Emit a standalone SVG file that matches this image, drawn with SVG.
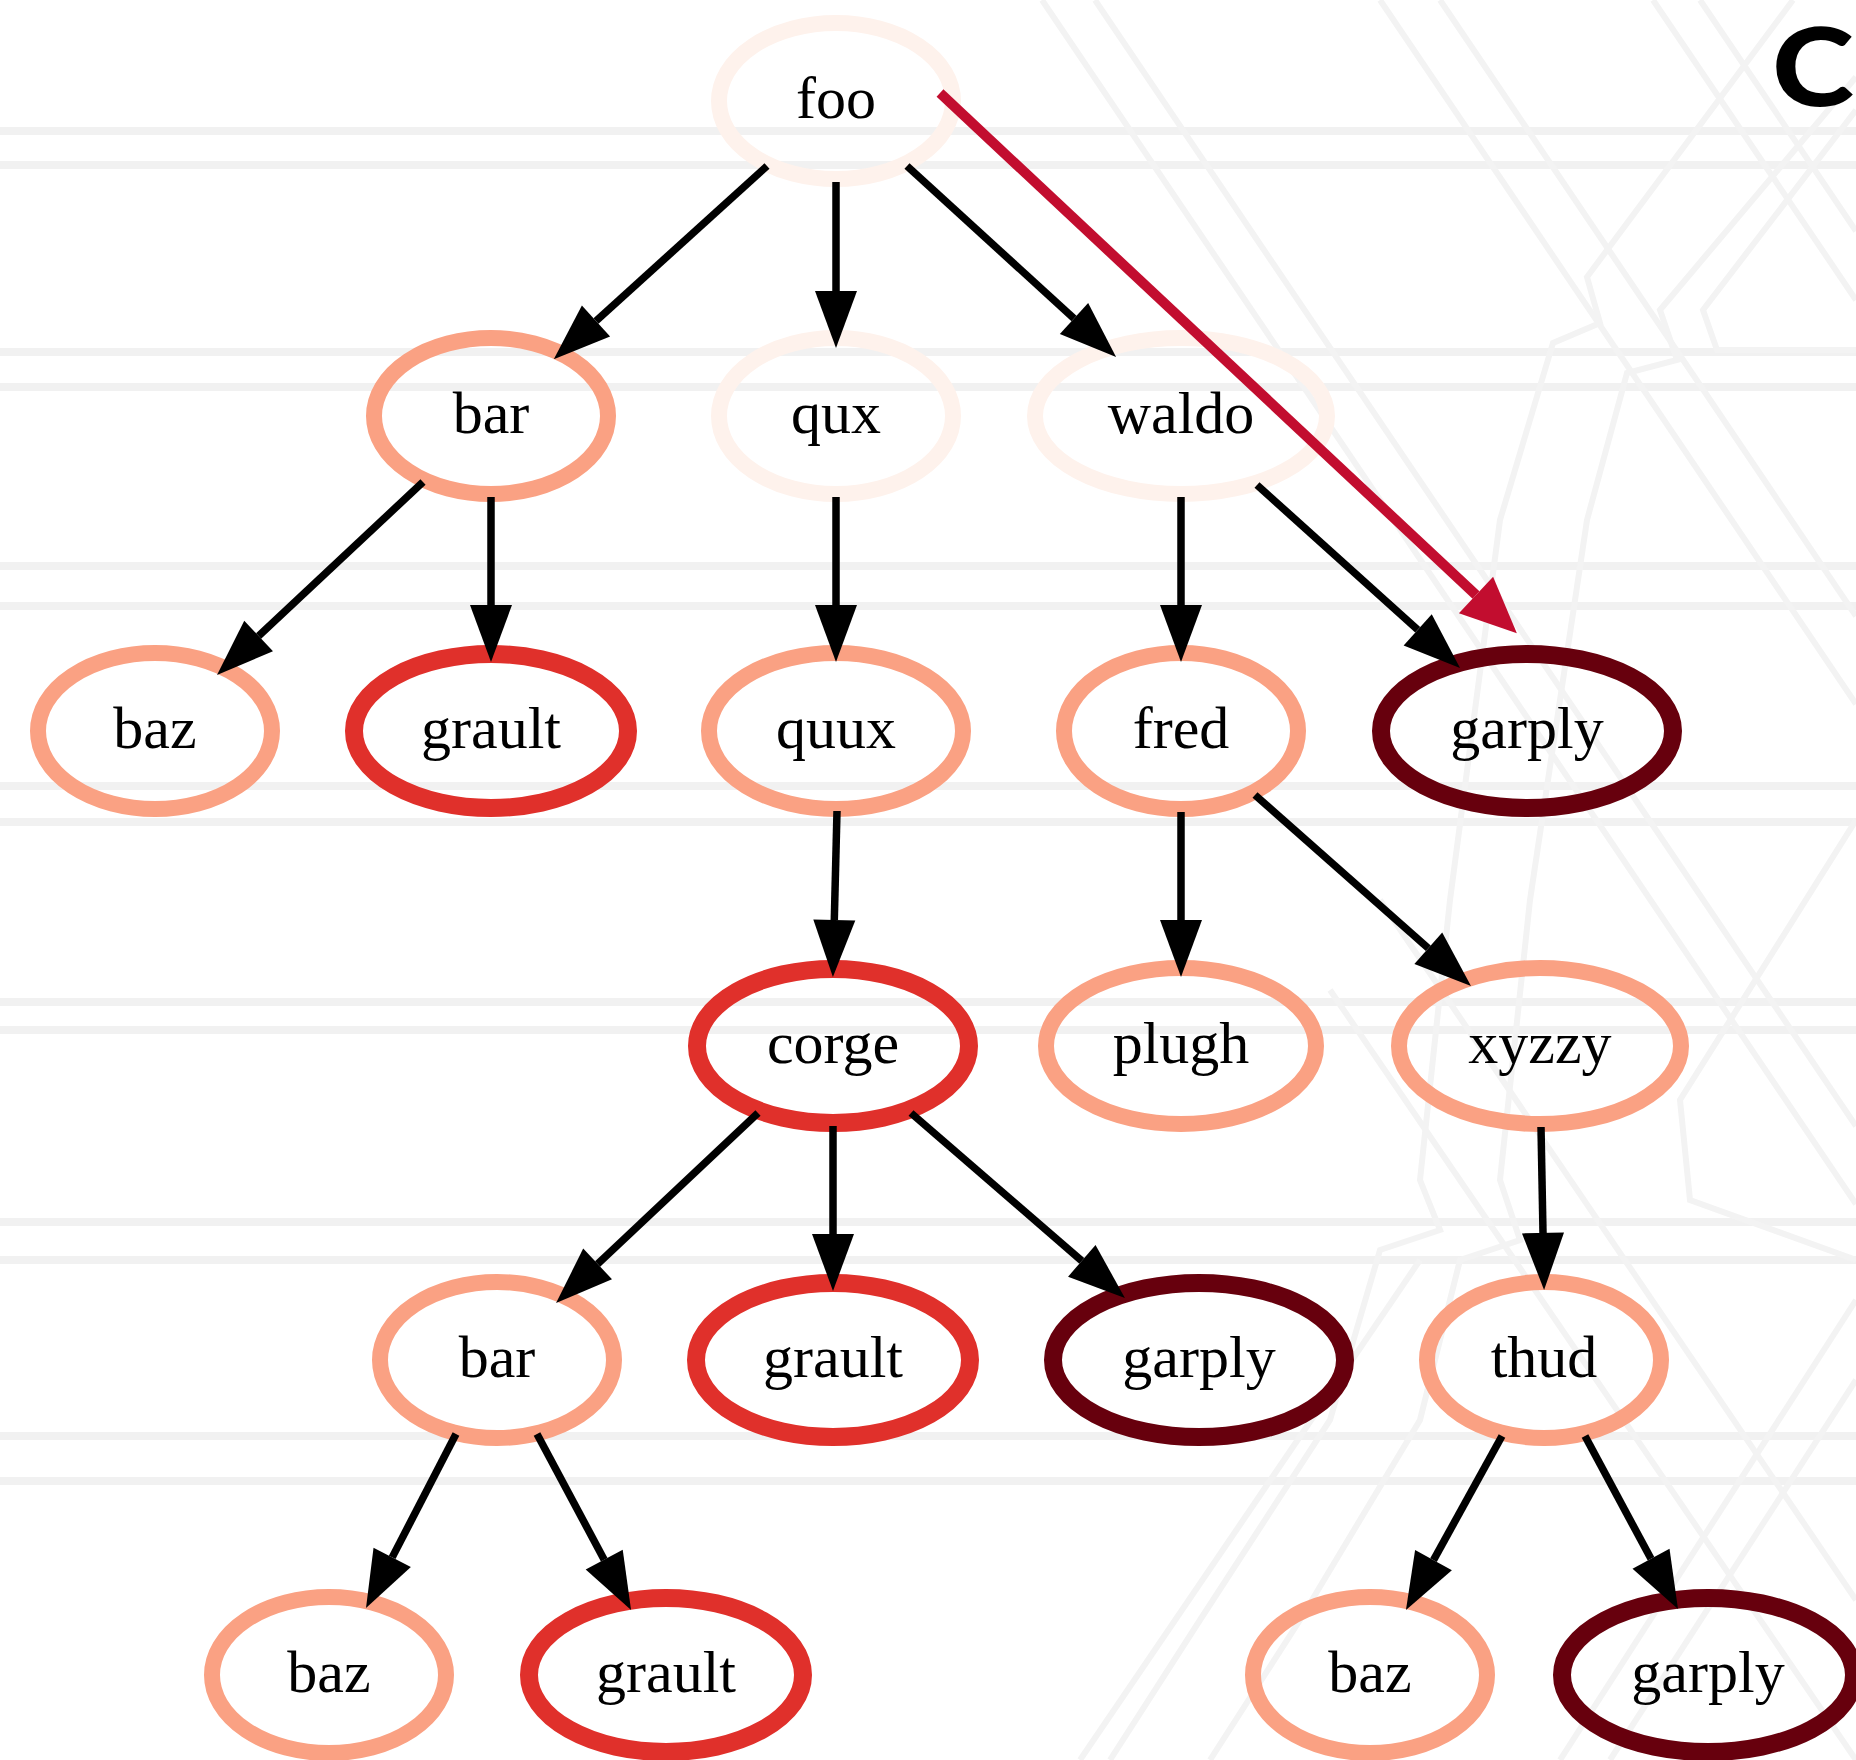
<svg xmlns="http://www.w3.org/2000/svg" width="1856" height="1760" viewBox="0 0 1856 1760">
<style>
.bg line, .bg polyline { stroke:#f1f1f1; stroke-width:8; fill:none; }
.bg .d { stroke:#f3f3f3; stroke-width:6; }
.nd ellipse { fill:none; }
.pale { stroke:#fef2ec; stroke-width:16; }
.salmon { stroke:#faa183; stroke-width:16; }
.red { stroke:#e0302b; stroke-width:18; }
.dark { stroke:#67000d; stroke-width:18; }
.nd text { font-family:"Liberation Serif","Times New Roman",serif; font-size:60px; text-anchor:middle; fill:#000; }
.e { stroke:#000; stroke-width:7.5; fill:none; marker-end:url(#ah); }
.er { stroke:#c20d2f; stroke-width:10; fill:none; marker-end:url(#ahr); }
</style>
<defs>
<marker id="ah" markerUnits="userSpaceOnUse" markerWidth="60" markerHeight="50" refX="0" refY="21" orient="auto" viewBox="0 0 60 50" overflow="visible">
<path d="M0,0 L57,21 L0,42 Z" fill="#000"/>
</marker>
<marker id="ahr" markerUnits="userSpaceOnUse" markerWidth="60" markerHeight="54" refX="0" refY="25" orient="auto" viewBox="0 0 60 54" overflow="visible">
<path d="M0,0 L56,25 L0,50 Z" fill="#c20d2f"/>
</marker>
</defs>
<rect width="1856" height="1760" fill="#fff"/>
<g class="bg" id="background">
<line x1="0" y1="131" x2="1856" y2="131"/>
<line x1="0" y1="165" x2="1856" y2="165"/>
<line x1="0" y1="352" x2="1856" y2="352"/>
<line x1="0" y1="387" x2="1856" y2="387"/>
<line x1="0" y1="566" x2="1856" y2="566"/>
<line x1="0" y1="606" x2="1856" y2="606"/>
<line x1="0" y1="786" x2="1856" y2="786"/>
<line x1="0" y1="822" x2="1856" y2="822"/>
<line x1="0" y1="1002" x2="1856" y2="1002"/>
<line x1="0" y1="1030" x2="1856" y2="1030"/>
<line x1="0" y1="1222" x2="1856" y2="1222"/>
<line x1="0" y1="1260" x2="1856" y2="1260"/>
<line x1="0" y1="1436" x2="1856" y2="1436"/>
<line x1="0" y1="1481" x2="1856" y2="1481"/>
<line class="d" x1="1042" y1="0" x2="1856" y2="1204"/>
<line class="d" x1="1095" y1="0" x2="1856" y2="1126"/>
<line class="d" x1="1380" y1="0" x2="1856" y2="704"/>
<line class="d" x1="1440" y1="0" x2="1856" y2="616"/>
<line class="d" x1="1653" y1="0" x2="1856" y2="300"/>
<line class="d" x1="1700" y1="0" x2="1856" y2="231"/>
<polyline class="d" points="1793,0 1587,277 1600,323 1553,343 1500,520 1450,900 1420,1180 1440,1230 1380,1250 1330,1420 1200,1620 1110,1760"/>
<polyline class="d" points="1856,77 1660,310 1677,360 1627,373 1587,520 1530,900 1500,1180 1520,1240 1460,1260 1420,1420 1300,1620 1210,1760"/>
<polyline class="d" points="1856,110 1703,310 1717,350 1856,350"/>
<polyline class="d" points="1856,820 1680,1100 1690,1200 1856,1260"/>
<line class="d" x1="1856" y1="1300" x2="1560" y2="1760"/>
<line class="d" x1="1856" y1="1380" x2="1610" y2="1760"/>
<line class="d" x1="1380" y1="900" x2="1856" y2="1600"/>
<line class="d" x1="1330" y1="990" x2="1856" y2="1760"/>
<line class="d" x1="1080" y1="1760" x2="1420" y2="1260"/>
</g>
<g id="nodes" class="nd">
<g id="n_foo"><ellipse class="pale" cx="836" cy="101" rx="117" ry="78"/><text x="836" y="118">foo</text></g>
<g id="n_bar1"><ellipse class="salmon" cx="491" cy="416" rx="117" ry="78"/><text x="491" y="433">bar</text></g>
<g id="n_qux"><ellipse class="pale" cx="836" cy="416" rx="117" ry="78"/><text x="836" y="433">qux</text></g>
<g id="n_waldo"><ellipse class="pale" cx="1181" cy="416" rx="146" ry="78"/><text x="1181" y="433">waldo</text></g>
<g id="n_baz1"><ellipse class="salmon" cx="155" cy="731" rx="117" ry="78"/><text x="155" y="748">baz</text></g>
<g id="n_grault1"><ellipse class="red" cx="491" cy="731" rx="137" ry="77"/><text x="491" y="748">grault</text></g>
<g id="n_quux"><ellipse class="salmon" cx="836" cy="731" rx="127" ry="78"/><text x="836" y="748">quux</text></g>
<g id="n_fred"><ellipse class="salmon" cx="1181" cy="731" rx="117" ry="78"/><text x="1181" y="748">fred</text></g>
<g id="n_garply1"><ellipse class="dark" cx="1527" cy="731" rx="146" ry="77"/><text x="1527" y="748">garply</text></g>
<g id="n_corge"><ellipse class="red" cx="833" cy="1046" rx="136" ry="77"/><text x="833" y="1063">corge</text></g>
<g id="n_plugh"><ellipse class="salmon" cx="1181" cy="1046" rx="135" ry="78"/><text x="1181" y="1063">plugh</text></g>
<g id="n_xyzzy"><ellipse class="salmon" cx="1540" cy="1046" rx="141" ry="78"/><text x="1540" y="1063">xyzzy</text></g>
<g id="n_bar2"><ellipse class="salmon" cx="497" cy="1360" rx="117" ry="78"/><text x="497" y="1377">bar</text></g>
<g id="n_grault2"><ellipse class="red" cx="833" cy="1360" rx="137" ry="77"/><text x="833" y="1377">grault</text></g>
<g id="n_garply2"><ellipse class="dark" cx="1199" cy="1360" rx="146" ry="77"/><text x="1199" y="1377">garply</text></g>
<g id="n_thud"><ellipse class="salmon" cx="1544" cy="1360" rx="117" ry="78"/><text x="1544" y="1377">thud</text></g>
<g id="n_baz2"><ellipse class="salmon" cx="329" cy="1675" rx="117" ry="78"/><text x="329" y="1692">baz</text></g>
<g id="n_grault3"><ellipse class="red" cx="666" cy="1675" rx="137" ry="77"/><text x="666" y="1692">grault</text></g>
<g id="n_baz3"><ellipse class="salmon" cx="1370" cy="1675" rx="117" ry="78"/><text x="1370" y="1692">baz</text></g>
<g id="n_garply3"><ellipse class="dark" cx="1708" cy="1675" rx="146" ry="77"/><text x="1708" y="1692">garply</text></g>
</g>
<g id="edges">
<line class="e" x1="767" y1="166" x2="596" y2="321"/>
<line class="e" x1="836" y1="182" x2="836" y2="291"/>
<line class="e" x1="907" y1="166" x2="1074" y2="318.5"/>
<line class="er" x1="940" y1="93" x2="1476" y2="595"/>
<line class="e" x1="423" y1="482" x2="258.6" y2="636"/>
<line class="e" x1="491" y1="497" x2="491" y2="605"/>
<line class="e" x1="836" y1="497" x2="836" y2="605"/>
<line class="e" x1="1181" y1="497" x2="1181" y2="605"/>
<line class="e" x1="1257" y1="485" x2="1417.7" y2="629.8"/>
<line class="e" x1="837" y1="811" x2="834.3" y2="920"/>
<line class="e" x1="1181" y1="812" x2="1181" y2="920"/>
<line class="e" x1="1255" y1="795" x2="1428.3" y2="948.2"/>
<line class="e" x1="758" y1="1113" x2="597.6" y2="1263.9"/>
<line class="e" x1="833" y1="1126" x2="833" y2="1234"/>
<line class="e" x1="911" y1="1113" x2="1081.8" y2="1260.8"/>
<line class="e" x1="1541" y1="1127" x2="1543" y2="1233"/>
<line class="e" x1="456" y1="1434" x2="392.2" y2="1557.4"/>
<line class="e" x1="537" y1="1434" x2="604.2" y2="1559.7"/>
<line class="e" x1="1502" y1="1436" x2="1433.5" y2="1560.1"/>
<line class="e" x1="1585" y1="1436" x2="1651" y2="1558.8"/>
</g>
<text id="panel_label" x="1772" y="106" transform="translate(1772 0) scale(1.15 1) translate(-1772 0)" font-family="Lato, 'DejaVu Sans', sans-serif" font-weight="900" font-size="108" fill="#000">C</text>
</svg>
